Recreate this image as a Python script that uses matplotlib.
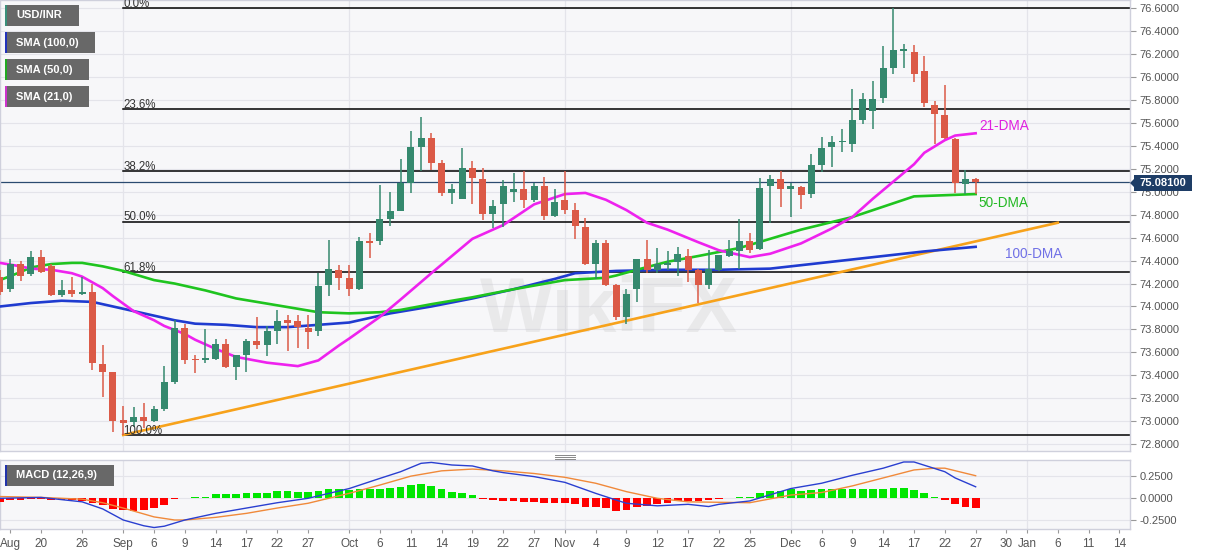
import numpy as np
import pandas as pd
import matplotlib
matplotlib.use('Agg')
import matplotlib.pyplot as plt
from matplotlib.patches import Rectangle, Polygon
from matplotlib.lines import Line2D

plt.rcParams['font.family'] = ['Liberation Sans', 'DejaVu Sans']

# ---------------- data ----------------
dates = pd.bdate_range('2021-08-16', '2021-12-27')

opens = [74.26, 74.15, 74.37, 74.28, 74.43, 74.35, 74.10, 74.14, 74.11, 74.13,
         73.50, 73.43, 73.01, 72.99, 73.04, 73.00, 73.11, 73.34, 73.81, 73.54,
         73.53, 73.54, 73.67, 73.47, 73.58, 73.70, 73.66, 73.79, 73.88, 73.87,
         73.81, 73.79, 74.19, 74.32, 74.25, 74.15, 74.57, 74.57, 74.76, 74.83,
         75.08, 75.39, 75.47, 75.25, 74.99, 74.94, 75.21, 75.11, 74.81, 74.89,
         75.00, 75.02, 74.93, 75.05, 74.79, 74.93, 74.84, 74.69, 74.37, 74.55,
         74.19, 73.91, 74.15, 74.41, 74.32, 74.36, 74.39, 74.44, 74.32, 74.19,
         74.32, 74.44, 74.48, 74.57, 74.50, 75.05, 75.11, 75.02, 75.04, 74.98,
         75.23, 75.39, 75.43, 75.42, 75.63, 75.70, 75.82, 76.08, 76.23, 76.22,
         76.05, 75.76, 75.67, 75.46, 75.07, 75.11]
highs = [74.32, 74.41, 74.40, 74.48, 74.49, 74.37, 74.23, 74.26, 74.26, 74.20,
         73.66, 73.43, 73.13, 73.12, 73.16, 73.13, 73.48, 73.88, 73.85, 73.58,
         73.80, 73.72, 73.72, 73.58, 73.72, 73.91, 73.83, 73.97, 73.93, 73.93,
         73.93, 74.29, 74.58, 74.36, 74.36, 74.61, 74.64, 75.06, 75.00, 75.29,
         75.53, 75.65, 75.51, 75.28, 75.07, 75.38, 75.27, 75.21, 74.93, 75.10,
         75.16, 75.18, 75.08, 75.13, 75.02, 75.18, 74.90, 74.77, 74.58, 74.58,
         74.20, 74.15, 74.41, 74.58, 74.51, 74.48, 74.52, 74.50, 74.33, 74.49,
         74.45, 74.58, 74.76, 74.64, 75.12, 75.15, 75.18, 75.08, 75.05, 75.33,
         75.48, 75.49, 75.55, 75.90, 75.86, 75.97, 76.27, 76.60, 76.29, 76.28,
         76.18, 75.79, 75.93, 75.47, 75.19, 75.12]
lows = [74.10, 74.13, 74.22, 74.27, 74.29, 74.09, 74.08, 74.08, 74.10, 73.45,
        73.21, 72.91, 72.88, 72.95, 72.94, 72.99, 73.09, 73.32, 73.50, 73.42,
        73.51, 73.53, 73.46, 73.36, 73.43, 73.63, 73.57, 73.67, 73.61, 73.64,
        73.63, 73.74, 74.09, 74.14, 74.09, 74.14, 74.42, 74.54, 74.70, 74.83,
        74.99, 75.18, 75.19, 74.96, 74.89, 74.94, 74.89, 74.75, 74.68, 74.69,
        74.91, 74.86, 74.91, 74.75, 74.78, 74.81, 74.59, 74.36, 74.24, 74.18,
        73.88, 73.85, 74.04, 74.29, 74.29, 74.32, 74.27, 74.21, 74.03, 74.15,
        74.31, 74.43, 74.33, 74.47, 74.49, 74.73, 74.87, 74.78, 74.85, 74.95,
        75.17, 75.22, 75.35, 75.35, 75.59, 75.55, 75.77, 76.03, 76.08, 75.96,
        75.74, 75.42, 75.46, 74.99, 74.98, 74.98]
closes = [74.13, 74.37, 74.27, 74.43, 74.30, 74.10, 74.14, 74.11, 74.13, 73.51,
          73.43, 73.00, 72.98, 73.04, 73.00, 73.11, 73.34, 73.81, 73.53, 73.53,
          73.55, 73.67, 73.47, 73.58, 73.70, 73.66, 73.79, 73.87, 73.86, 73.82,
          73.78, 74.18, 74.33, 74.25, 74.15, 74.57, 74.55, 74.76, 74.83, 75.08,
          75.39, 75.47, 75.25, 74.99, 75.02, 75.21, 75.12, 74.81, 74.88, 75.05,
          75.02, 74.93, 75.05, 74.79, 74.91, 74.84, 74.70, 74.37, 74.55, 74.19,
          73.91, 74.11, 74.41, 74.32, 74.37, 74.38, 74.46, 74.32, 74.19, 74.33,
          74.45, 74.48, 74.57, 74.49, 75.03, 75.11, 75.02, 75.05, 74.97, 75.23,
          75.38, 75.43, 75.44, 75.63, 75.81, 75.81, 76.08, 76.24, 76.24, 76.03,
          75.77, 75.68, 75.47, 75.08, 75.11, 75.081]

# moving averages (trading-day index, value)
sma21_day = [0, 2, 3, 5, 7, 8, 10, 11, 13, 15, 16, 18, 19, 21, 23, 26, 29, 31, 33, 34,
             37, 39, 42, 46, 49, 52, 55, 57, 59, 61, 63, 65, 68, 70, 73, 75, 78, 81,
             83, 85, 87, 89, 90, 92, 93, 95]
sma21_val = [74.38, 74.35, 74.33, 74.32, 74.29, 74.26, 74.16, 74.09, 73.96, 73.88,
             73.83, 73.76, 73.71, 73.63, 73.56, 73.51, 73.48, 73.53, 73.66, 73.72,
             73.91, 74.06, 74.29, 74.59, 74.71, 74.89, 74.98, 74.99, 74.93, 74.84,
             74.73, 74.67, 74.56, 74.49, 74.43, 74.46, 74.55, 74.68, 74.78, 74.94,
             75.09, 75.24, 75.34, 75.45, 75.49, 75.51]
sma50_day = [0, 2, 3, 5, 7, 8, 10, 12, 15, 17, 19, 20, 23, 27, 29, 31, 34, 37, 39, 42,
             46, 50, 55, 59, 60, 62, 65, 68, 72, 75, 78, 83, 87, 89, 92, 95]
sma50_val = [74.23, 74.30, 74.34, 74.37, 74.38, 74.38, 74.35, 74.31, 74.23, 74.20,
             74.16, 74.14, 74.07, 74.01, 73.98, 73.95, 73.94, 73.95, 73.97, 74.02,
             74.08, 74.15, 74.23, 74.25, 74.27, 74.32, 74.39, 74.44, 74.51, 74.59,
             74.67, 74.78, 74.90, 74.96, 74.97, 74.98]
sma100_day = [0, 3, 6, 9, 12, 15, 17, 19, 22, 25, 28, 31, 34, 38, 42, 46, 50, 54, 56,
              60, 65, 70, 75, 80, 85, 90, 95]
sma100_val = [74.00, 74.03, 74.05, 74.04, 73.98, 73.92, 73.88, 73.85, 73.84, 73.82,
              73.82, 73.84, 73.86, 73.94, 74.00, 74.07, 74.15, 74.24, 74.29, 74.31,
              74.32, 74.32, 74.33, 74.38, 74.43, 74.48, 74.52]

trend_day = [12, 103]
trend_val = [72.88, 74.73]

fib_high, fib_low = 76.60, 72.88
fib_ratios = [0.0, 0.236, 0.382, 0.5, 0.618, 1.0]
fib_labels = ['0.0%', '23.6%', '38.2%', '50.0%', '61.8%', '100.0%']
fib_start_day = 12

last_price = 75.081

# MACD (12,26,9)
macd_hist = [-0.04, -0.02, -0.02, -0.01, -0.01, -0.02, -0.02, -0.02, -0.025, -0.056,
             -0.075, -0.12, -0.13, -0.14, -0.13, -0.11, -0.075, -0.01, 0.003, 0.01,
             0.02, 0.045, 0.05, 0.05, 0.056, 0.063, 0.065, 0.078, 0.078, 0.075,
             0.07, 0.085, 0.10, 0.10, 0.093, 0.10, 0.107, 0.11, 0.12, 0.13,
             0.155, 0.16, 0.14, 0.10, 0.07, 0.056, 0.037, -0.003, -0.02, -0.025,
             -0.025, -0.037, -0.037, -0.056, -0.056, -0.056, -0.067, -0.093, -0.093, -0.11,
             -0.14, -0.13, -0.10, -0.085, -0.067, -0.05, -0.03, -0.025, -0.025, -0.02,
             -0.007, 0.003, 0.01, 0.01, 0.056, 0.082, 0.085, 0.10, 0.082, 0.093,
             0.10, 0.105, 0.10, 0.10, 0.105, 0.105, 0.11, 0.12, 0.12, 0.093,
             0.056, 0.02, -0.02, -0.067, -0.093, -0.11]
macd_day = [0, 4, 8, 10, 12, 14, 15, 16, 18, 21, 24, 27, 30, 34, 37, 39, 41, 42, 44, 46,
            48, 49, 52, 55, 58, 60, 61, 64, 67, 69, 70, 73, 77, 80, 83, 86, 88, 89, 92,
            93, 95]
macd_val = [0.00, 0.01, -0.04, -0.12, -0.245, -0.31, -0.33, -0.315, -0.245, -0.17,
            -0.11, -0.05, 0.0, 0.11, 0.225, 0.30, 0.395, 0.405, 0.376, 0.365,
            0.31, 0.29, 0.245, 0.18, 0.056, -0.02, -0.056, -0.085, -0.068, -0.093,
            -0.068, -0.03, 0.11, 0.17, 0.26, 0.34, 0.41, 0.41, 0.30, 0.23, 0.13]
signal_day = [0, 4, 8, 10, 12, 15, 17, 18, 21, 24, 27, 30, 34, 37, 40, 43, 46, 49, 52,
              55, 58, 61, 64, 67, 70, 73, 77, 80, 83, 86, 89, 91, 92, 95]
signal_val = [0.02, 0.01, -0.01, -0.05, -0.11, -0.21, -0.245, -0.245, -0.215, -0.17,
              -0.11, -0.056, 0.056, 0.15, 0.25, 0.31, 0.33, 0.31, 0.28, 0.237,
              0.17, 0.075, 0.0, -0.04, -0.045, -0.05, 0.037, 0.065, 0.14, 0.23,
              0.32, 0.34, 0.34, 0.255]

axis_days = pd.bdate_range('2021-08-16', '2022-01-14')
tick_dates = ['2021-08-17', '2021-08-20', '2021-08-26', '2021-09-01', '2021-09-06',
              '2021-09-09', '2021-09-14', '2021-09-17', '2021-09-22', '2021-09-27',
              '2021-10-01', '2021-10-06', '2021-10-11', '2021-10-14', '2021-10-19',
              '2021-10-22', '2021-10-27', '2021-11-01', '2021-11-04', '2021-11-09',
              '2021-11-12', '2021-11-17', '2021-11-22', '2021-11-25', '2021-12-01',
              '2021-12-06', '2021-12-09', '2021-12-14', '2021-12-17', '2021-12-22',
              '2021-12-27', '2021-12-30', '2022-01-03', '2022-01-06', '2022-01-11',
              '2022-01-14']
tick_labels = ['Aug', '20', '26', 'Sep', '6', '9', '14', '17', '22', '27', 'Oct', '6',
               '11', '14', '19', '22', '27', 'Nov', '4', '9', '12', '17', '22', '25',
               'Dec', '6', '9', '14', '17', '22', '27', '30', 'Jan', '6', '11', '14']
month_dates = ['2021-09-01', '2021-10-01', '2021-11-01', '2021-12-01', '2022-01-03']

# ---------------- figure ----------------
W, H = 1207, 555
fig = plt.figure(figsize=(W / 100, H / 100), dpi=100)
fig.patch.set_facecolor('white')

def fx(x):
    return x / W

def fy(y):
    return 1 - y / H

ax = fig.add_axes([0, fy(451), fx(1130), 451 / H])
ax2 = fig.add_axes([0, fy(529.3), fx(1130), (529.3 - 460.3) / H])

panel_bg = '#f7f7f9'
grid_c = '#e4e4ea'
spine_c = '#cfd0dc'
for a in (ax, ax2):
    a.set_facecolor(panel_bg)
    for s in a.spines.values():
        s.set_color(spine_c)
        s.set_linewidth(1.0)

x_right = 1130 / 10.27
ax.set_xlim(0, x_right)
ax2.set_xlim(0, x_right)
ax.set_ylim(72.740, 76.672)
ax2.set_ylim(-0.35, 0.429)

tick_pos = axis_days.get_indexer(pd.to_datetime(tick_dates))
month_pos = axis_days.get_indexer(pd.to_datetime(month_dates))

# grids
yt = np.round(np.arange(72.8, 76.61, 0.2), 1)
for v in yt:
    ax.axhline(v, color=grid_c, lw=0.8, zorder=0)
for m in month_pos:
    ax.axvline(m, color=grid_c, lw=0.9, zorder=0)
    ax2.axvline(m, color=grid_c, lw=0.9, zorder=0)
for v in (-0.25, 0.0, 0.25):
    ax2.axhline(v, color=grid_c, lw=0.8, zorder=0)

# watermark (kept inside the price panel)
ax.text(480 / 1130, 1 - 312 / 451, 'WikiFX', transform=ax.transAxes, fontsize=56,
        fontweight='bold', color='#cfcfcf', alpha=0.35, zorder=0.5, va='center',
        ha='left', clip_on=True)

# fib levels
idx = np.arange(len(dates))
for r, lab in zip(fib_ratios, fib_labels):
    lvl = fib_high - r * (fib_high - fib_low)
    ax.plot([fib_start_day, x_right], [lvl, lvl], color='black', lw=1.1, zorder=2)
    ax.annotate(lab, (fib_start_day, lvl), xytext=(0, 0.9), textcoords='offset points',
                fontsize=8.3, color='#333333', va='baseline', ha='left', zorder=6)

# current price line
ax.axhline(last_price, color='#2b4b70', lw=0.9, zorder=2)

# trend line
ax.plot(trend_day, trend_val, color='#f7a21b', lw=1.9, zorder=3)

# moving averages
ax.plot(sma100_day, sma100_val, color='#1f3bd0', lw=1.9, zorder=4)
ax.plot(sma50_day, sma50_val, color='#1fc41f', lw=1.9, zorder=4)
ax.plot(sma21_day, sma21_val, color='#ee22ee', lw=1.9, zorder=4)

# candles
o = np.array(opens); h = np.array(highs); l = np.array(lows); c = np.array(closes)
up_c, dn_c = '#35896e', '#db5a47'
cols = [up_c if cc >= oo else dn_c for oo, cc in zip(o, c)]
ax.vlines(idx, l, h, colors=cols, lw=1.1, zorder=5)
ax.bar(idx, np.maximum(np.abs(c - o), 0.012), bottom=np.minimum(o, c), width=0.68,
       color=cols, zorder=5, linewidth=0)

# DMA labels
ax.text(95.4, 75.57, '21-DMA', color='#e020e0', fontsize=9.8, va='center', ha='left', zorder=6)
ax.text(95.3, 74.90, '50-DMA', color='#22b822', fontsize=9.8, va='center', ha='left', zorder=6)
ax.text(97.9, 74.46, '100-DMA', color='#7070e6', fontsize=9.8, va='center', ha='left', zorder=6)

# axes ticks
ax.yaxis.tick_right()
ax.set_yticks(yt)
ax.set_yticklabels(['%.4f' % v for v in yt])
ax.tick_params(axis='y', colors='#999999', labelcolor='#555555', labelsize=8, length=4,
               width=0.8, pad=3)
ax.set_xticks([])
ax.tick_params(axis='x', length=0)

ax2.yaxis.tick_right()
ax2.set_yticks([-0.25, 0.0, 0.25])
ax2.set_yticklabels(['%.4f' % v for v in (-0.25, 0.0, 0.25)])
ax2.tick_params(axis='y', colors='#999999', labelcolor='#555555', labelsize=8, length=4,
                width=0.8, pad=3)
ax2.set_xticks(tick_pos)
ax2.set_xticklabels(tick_labels)
ax2.tick_params(axis='x', colors='#999999', labelcolor='#555555', labelsize=8.5, length=3,
                width=0.8, pad=3)

# MACD
hv = np.array(macd_hist)
hcols = ['#00e600' if v >= 0 else '#ff0000' for v in hv]
ax2.bar(idx, hv, width=0.75, color=hcols, zorder=3, linewidth=0)
ax2.plot(signal_day, signal_val, color='#f0893a', lw=1.0, zorder=4)
ax2.plot(macd_day, macd_val, color='#2a3fd0', lw=1.0, zorder=4)

# price label box
fig.patches.append(Rectangle((fx(1134), fy(191)), fx(1192) - fx(1134), fy(175) - fy(191),
                             transform=fig.transFigure, facecolor='#1e3d66', edgecolor='none',
                             zorder=10))
fig.patches.append(Polygon([(fx(1130), fy(183)), (fx(1134), fy(179)), (fx(1134), fy(187))],
                           closed=True, transform=fig.transFigure, facecolor='#1e3d66',
                           edgecolor='none', zorder=10))
fig.text(fx(1163), fy(183), '%.5f' % last_price, color='white', fontsize=8, fontweight='bold',
         ha='center', va='center', zorder=11)

# legend boxes
def legend_box(x0, y0, x1, y1, stripe, text):
    fig.patches.append(Rectangle((fx(x0), fy(y1)), fx(x1) - fx(x0), fy(y0) - fy(y1),
                                 transform=fig.transFigure, facecolor='#686868',
                                 edgecolor='none', zorder=10))
    fig.patches.append(Rectangle((fx(x0), fy(y1)), fx(x0 + 2) - fx(x0), fy(y0) - fy(y1),
                                 transform=fig.transFigure, facecolor=stripe,
                                 edgecolor='none', zorder=11))
    fig.text(fx(x0 + 11), fy((y0 + y1) / 2), text, color='white', fontsize=8,
             fontweight='bold', ha='left', va='center', zorder=12)

legend_box(5, 5, 79, 26, '#3a8f7a', 'USD/INR')
legend_box(5, 32, 95, 53, '#2233bb', 'SMA (100,0)')
legend_box(5, 59, 89, 80, '#22aa22', 'SMA (50,0)')
legend_box(5, 86, 89, 107, '#cc33cc', 'SMA (21,0)')
legend_box(5, 465, 114, 486, '#2233aa', 'MACD (12,26,9)')

# panel splitter handle
for yy in (454.5, 456.5, 458.5):
    fig.add_artist(Line2D([fx(555), fx(575)], [fy(yy), fy(yy)], color='#888888', lw=0.7))

fig.savefig('out.png', dpi=100, facecolor='white')
